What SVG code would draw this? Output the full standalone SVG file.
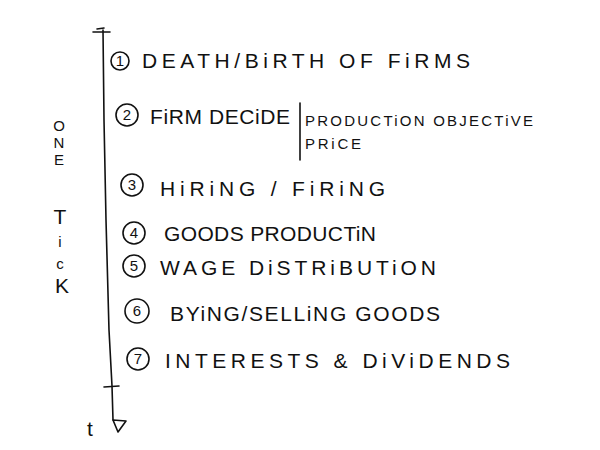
<svg xmlns="http://www.w3.org/2000/svg" width="600" height="450" viewBox="0 0 600 450">
<style>
.t{font-family:"Liberation Sans","DejaVu Sans",sans-serif;fill:#111;font-weight:normal}
.big{font-size:21px}
.sm{font-size:15px}
.ln{stroke:#111;stroke-width:1.6;fill:none;stroke-linecap:round;stroke-linejoin:round}
.c{stroke:#111;stroke-width:1.6;fill:none}
.num{font-family:"Liberation Sans",sans-serif;font-size:15px;fill:#111;text-anchor:middle}
</style>
<rect width="600" height="450" fill="#fff"/>
<g id="connectors">
<path class="ln" d="M103,30 L104,120 L106,220 L109,330 L112,386 L113,420"/>
<path class="ln" d="M93,32 L110,32 M97,29 L104,28"/>
<path class="ln" d="M104,387 L119,386"/>
<path class="ln" d="M113,420 L126,421 L118,432 Z"/>
<path class="ln" d="M300,103 L300,160"/>
</g>
<g id="axis-labels">
<text class="t big" x="87" y="436">t</text>
<text class="t sm" x="59" y="131" text-anchor="middle">O</text>
<text class="t sm" x="59" y="148" text-anchor="middle">N</text>
<text class="t sm" x="59" y="165" text-anchor="middle">E</text>
<text class="t big" x="60" y="224" text-anchor="middle">T</text>
<text class="t sm" x="60" y="247" text-anchor="middle">i</text>
<text class="t sm" x="60" y="269" text-anchor="middle">c</text>
<text class="t big" x="62" y="293" text-anchor="middle">K</text>
</g>
<g id="step1">
<circle class="c" cx="120" cy="61" r="9"/><text class="num" x="120" y="66">1</text>
<text class="t big" x="142" y="68" textLength="328" lengthAdjust="spacing">DEATH/BiRTH   OF FiRMS</text>
</g>
<g id="step2">
<circle class="c" cx="127" cy="115" r="11"/><text class="num" x="127" y="120">2</text>
<text class="t big" x="150" y="124" textLength="140" lengthAdjust="spacing">FiRM  DECiDE</text>
<text class="t sm" x="305" y="126" textLength="228" lengthAdjust="spacing">PRODUCTiON  OBJECTiVE</text>
<text class="t sm" x="305" y="149" textLength="56" lengthAdjust="spacing">PRiCE</text>
</g>
<g id="step3">
<circle class="c" cx="132" cy="185" r="11"/><text class="num" x="132" y="190">3</text>
<text class="t big" x="160" y="196" textLength="225" lengthAdjust="spacing">HiRiNG / FiRiNG</text>
</g>
<g id="step4">
<circle class="c" cx="134" cy="233" r="11"/><text class="num" x="134" y="238">4</text>
<text class="t big" x="164" y="241" textLength="212" lengthAdjust="spacing">GOODS  PRODUCTiN</text>
</g>
<g id="step5">
<circle class="c" cx="134" cy="266" r="11"/><text class="num" x="134" y="271">5</text>
<text class="t big" x="160" y="275" textLength="276" lengthAdjust="spacing">WAGE   DiSTRiBUTiON</text>
</g>
<g id="step6">
<circle class="c" cx="137" cy="311" r="12"/><text class="num" x="137" y="316">6</text>
<text class="t big" x="170" y="321" textLength="270" lengthAdjust="spacing">BYiNG/SELLiNG  GOODS</text>
</g>
<g id="step7">
<circle class="c" cx="138" cy="359" r="11"/><text class="num" x="138" y="364">7</text>
<text class="t big" x="165" y="368" textLength="345" lengthAdjust="spacing">INTERESTS &amp; DiViDENDS</text>
</g>
</svg>
